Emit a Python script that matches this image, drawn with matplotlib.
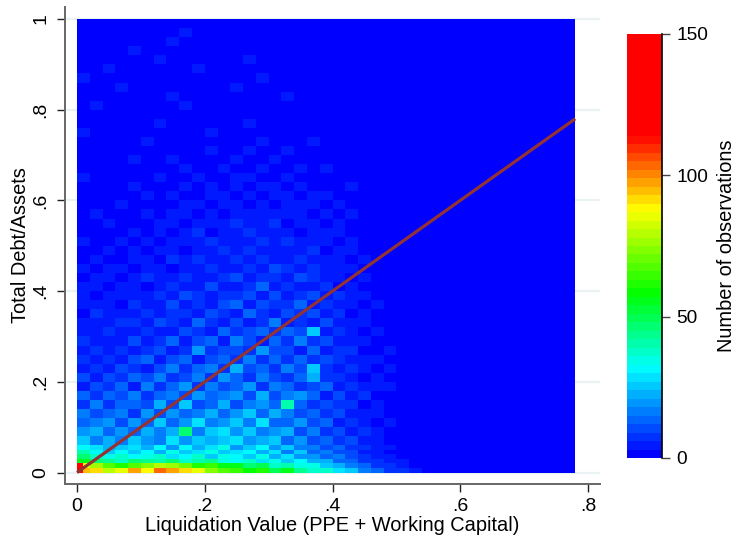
import numpy as np
import matplotlib
matplotlib.use("Agg")
import matplotlib.pyplot as plt
from matplotlib.colors import ListedColormap, BoundaryNorm

plt.rcParams['font.family'] = ['Liberation Sans', 'DejaVu Sans']

# bin edges, last column is the empty part on the right
x_edges = [0, .02, .04, .06, .08, .10, .12, .14, .16, .18, .20, .22, .24, .26, .28, .30,
           .32, .34, .36, .38, .40, .42, .44, .46, .48, .50, .52, .54, .56, .78]
y_edges = [0, .01, .02, .03, .04, .05, .06, .08, .10, .12, .14, .16, .18, .20, .22, .24, .26,
           .28, .30, .32, .34, .36, .38, .40, .42, .44, .46, .48, .50, .52, .54, .56, .58,
           .60, .62, .64, .66, .68, .70, .72, .74, .76, .78, .80, .82, .84, .86, .88, .90,
           .92, .94, .96, .98, 1.0]

# counts, bottom row first, columns x = 0 to .56
counts = [
    [92, 90, 78, 86, 96, 88, 103, 98, 92, 84, 74, 66, 63, 57, 60, 50, 54, 44, 38, 36, 29, 25, 16, 14, 8, 6, 3, 1],
    [84, 76, 66, 60, 68, 72, 79, 76, 70, 62, 63, 54, 55, 46, 49, 38, 41, 33, 34, 24, 23, 15, 13, 7, 7, 3, 2, 0],
    [54, 46, 44, 38, 47, 42, 40, 45, 37, 41, 44, 34, 31, 36, 28, 35, 26, 31, 21, 22, 13, 14, 8, 8, 4, 3, 1, 0],
    [47, 37, 33, 37, 30, 34, 38, 28, 32, 36, 26, 34, 31, 24, 33, 22, 27, 18, 20, 12, 15, 9, 8, 4, 4, 1, 0, 0],
    [41, 31, 26, 31, 24, 32, 23, 33, 25, 27, 34, 24, 29, 32, 21, 28, 17, 24, 14, 17, 10, 9, 5, 5, 2, 1, 0, 0],
    [31, 27, 22, 25, 29, 21, 30, 20, 31, 23, 28, 33, 20, 26, 31, 18, 26, 15, 16, 9, 12, 7, 6, 3, 3, 0, 0, 0],
    [25, 17, 21, 15, 24, 20, 17, 27, 18, 25, 21, 24, 29, 19, 23, 25, 14, 18, 10, 14, 6, 9, 3, 5, 1, 1, 0, 0],
    [18, 21, 12, 19, 14, 23, 16, 21, 46, 16, 24, 27, 18, 26, 17, 20, 21, 11, 15, 8, 10, 4, 6, 3, 2, 0, 0, 0],
    [13, 16, 18, 11, 20, 12, 24, 13, 19, 27, 15, 20, 25, 15, 28, 14, 13, 19, 9, 12, 5, 8, 4, 2, 3, 1, 0, 0],
    [17, 9, 14, 16, 8, 18, 11, 19, 14, 17, 23, 13, 18, 24, 12, 21, 17, 10, 14, 6, 10, 3, 5, 3, 0, 0, 0, 0],
    [8, 15, 7, 12, 14, 10, 21, 9, 24, 11, 14, 22, 11, 16, 19, 13, 40, 12, 8, 11, 7, 6, 2, 4, 1, 1, 0, 0],
    [12, 6, 13, 9, 17, 6, 13, 16, 10, 19, 12, 15, 20, 9, 21, 10, 15, 18, 13, 5, 9, 3, 6, 2, 0, 0, 0, 0],
    [5, 11, 8, 14, 5, 15, 8, 12, 20, 8, 17, 9, 14, 18, 8, 17, 12, 7, 10, 12, 4, 7, 3, 3, 3, 0, 0, 0],
    [10, 4, 9, 6, 12, 9, 17, 7, 11, 15, 7, 19, 12, 8, 15, 11, 6, 13, 22, 6, 8, 5, 2, 4, 0, 1, 0, 0],
    [4, 8, 3, 11, 7, 5, 10, 15, 6, 12, 16, 8, 22, 10, 13, 6, 16, 9, 25, 8, 3, 6, 4, 1, 3, 0, 0, 0],
    [7, 3, 6, 4, 9, 13, 4, 9, 13, 5, 10, 14, 7, 16, 7, 14, 8, 12, 6, 10, 7, 3, 4, 3, 0, 0, 0, 0],
    [3, 6, 5, 8, 3, 7, 11, 5, 8, 18, 6, 11, 9, 6, 18, 9, 11, 5, 14, 4, 6, 6, 1, 2, 3, 0, 0, 0],
    [6, 4, 3, 5, 10, 4, 6, 12, 3, 9, 13, 5, 15, 11, 5, 12, 7, 15, 6, 9, 3, 4, 5, 1, 0, 0, 0, 0],
    [3, 5, 7, 3, 4, 8, 5, 3, 10, 7, 5, 12, 6, 9, 14, 6, 13, 9, 25, 5, 7, 3, 2, 3, 0, 0, 0, 0],
    [5, 3, 4, 6, 7, 3, 9, 6, 4, 13, 8, 4, 11, 5, 8, 16, 5, 8, 4, 10, 4, 5, 3, 1, 1, 0, 0, 0],
    [2, 6, 3, 4, 3, 6, 4, 8, 6, 3, 11, 7, 5, 13, 7, 4, 10, 6, 9, 3, 8, 2, 4, 2, 0, 0, 0, 0],
    [4, 3, 5, 2, 6, 4, 3, 10, 4, 8, 5, 9, 13, 4, 11, 8, 6, 12, 3, 7, 3, 5, 1, 3, 0, 0, 0, 0],
    [3, 2, 3, 5, 3, 4, 7, 3, 9, 6, 3, 8, 6, 10, 5, 9, 4, 7, 9, 4, 6, 3, 3, 1, 0, 0, 0, 0],
    [4, 3, 2, 3, 5, 2, 5, 6, 3, 4, 10, 5, 4, 7, 12, 3, 8, 5, 4, 8, 2, 4, 2, 0, 1, 0, 0, 0],
    [2, 4, 3, 2, 3, 6, 3, 4, 7, 5, 3, 7, 9, 3, 6, 7, 4, 9, 6, 3, 5, 2, 3, 1, 0, 0, 0, 0],
    [3, 2, 4, 3, 2, 3, 5, 2, 5, 3, 6, 4, 3, 8, 4, 10, 6, 3, 7, 4, 3, 4, 0, 2, 0, 0, 0, 0],
    [2, 3, 2, 2, 4, 3, 2, 6, 3, 7, 4, 3, 6, 5, 8, 3, 5, 7, 3, 5, 3, 1, 3, 0, 0, 0, 0, 0],
    [1, 2, 3, 2, 3, 2, 4, 3, 2, 4, 5, 8, 3, 6, 3, 5, 3, 4, 6, 2, 4, 3, 1, 1, 0, 0, 0, 0],
    [3, 1, 2, 3, 1, 3, 2, 5, 3, 3, 6, 3, 5, 3, 7, 4, 6, 3, 3, 4, 2, 3, 0, 0, 0, 0, 0, 0],
    [1, 2, 1, 2, 3, 1, 3, 2, 4, 6, 2, 4, 3, 7, 3, 3, 5, 2, 4, 3, 3, 1, 2, 0, 0, 0, 0, 0],
    [2, 1, 3, 1, 2, 2, 3, 3, 2, 3, 4, 3, 6, 3, 4, 6, 2, 5, 3, 2, 3, 2, 0, 0, 0, 0, 0, 0],
    [1, 3, 1, 2, 1, 3, 1, 4, 3, 2, 5, 2, 3, 4, 3, 3, 4, 3, 2, 3, 1, 3, 1, 0, 0, 0, 0, 0],
    [2, 1, 1, 3, 2, 1, 2, 2, 5, 3, 2, 4, 3, 2, 5, 2, 3, 3, 4, 1, 3, 0, 1, 0, 0, 0, 0, 0],
    [1, 1, 2, 1, 1, 3, 2, 3, 1, 2, 3, 3, 2, 3, 2, 4, 3, 1, 3, 3, 0, 1, 0, 0, 0, 0, 0, 0],
    [0, 2, 1, 1, 3, 1, 1, 2, 3, 1, 4, 2, 3, 1, 3, 3, 2, 3, 1, 2, 1, 3, 0, 0, 0, 0, 0, 0],
    [3, 1, 1, 2, 1, 1, 3, 1, 2, 3, 2, 2, 4, 3, 2, 2, 3, 1, 2, 1, 0, 1, 0, 0, 0, 0, 0, 0],
    [1, 0, 2, 1, 1, 2, 1, 1, 3, 2, 1, 3, 2, 2, 3, 1, 2, 3, 1, 3, 1, 0, 0, 0, 0, 0, 0, 0],
    [2, 1, 0, 1, 3, 1, 1, 3, 1, 1, 2, 1, 3, 1, 2, 3, 1, 2, 1, 1, 0, 0, 0, 0, 0, 0, 0, 0],
    [1, 0, 1, 1, 1, 1, 2, 1, 2, 1, 3, 2, 1, 3, 1, 1, 3, 1, 1, 0, 1, 0, 0, 0, 0, 0, 0, 0],
    [0, 1, 0, 1, 0, 3, 1, 1, 1, 2, 1, 1, 2, 1, 3, 1, 1, 0, 3, 0, 0, 0, 0, 0, 0, 0, 0, 0],
    [3, 0, 1, 0, 1, 1, 0, 2, 1, 1, 3, 1, 1, 1, 1, 2, 0, 1, 0, 0, 0, 0, 0, 0, 0, 0, 0, 0],
    [0, 1, 0, 0, 1, 0, 3, 1, 0, 1, 1, 1, 0, 3, 1, 0, 1, 0, 0, 0, 0, 0, 0, 0, 0, 0, 0, 0],
    [1, 0, 0, 1, 0, 1, 0, 1, 1, 0, 1, 0, 1, 1, 0, 1, 0, 0, 0, 0, 0, 0, 0, 0, 0, 0, 0, 0],
    [0, 3, 0, 0, 0, 1, 0, 0, 3, 0, 0, 1, 0, 0, 1, 0, 0, 1, 0, 0, 0, 0, 0, 0, 0, 0, 0, 0],
    [0, 0, 1, 0, 1, 0, 0, 3, 0, 0, 1, 0, 0, 1, 0, 0, 3, 0, 0, 0, 0, 0, 0, 0, 0, 0, 0, 0],
    [0, 0, 0, 3, 0, 0, 1, 0, 0, 1, 0, 0, 3, 0, 0, 0, 0, 0, 0, 0, 0, 0, 0, 0, 0, 0, 0, 0],
    [3, 0, 0, 0, 0, 1, 0, 0, 1, 0, 0, 0, 0, 0, 3, 0, 0, 0, 0, 0, 0, 0, 0, 0, 0, 0, 0, 0],
    [0, 0, 3, 0, 0, 0, 0, 0, 0, 3, 0, 0, 0, 0, 0, 0, 0, 0, 0, 0, 0, 0, 0, 0, 0, 0, 0, 0],
    [0, 0, 0, 0, 0, 0, 3, 0, 0, 0, 0, 0, 0, 3, 0, 0, 0, 0, 0, 0, 0, 0, 0, 0, 0, 0, 0, 0],
    [0, 0, 0, 0, 3, 0, 0, 0, 0, 0, 0, 0, 0, 0, 0, 0, 0, 0, 0, 0, 0, 0, 0, 0, 0, 0, 0, 0],
    [0, 0, 0, 0, 0, 0, 0, 3, 0, 0, 0, 0, 0, 0, 0, 0, 0, 0, 0, 0, 0, 0, 0, 0, 0, 0, 0, 0],
    [0, 0, 0, 0, 0, 0, 0, 0, 3, 0, 0, 0, 0, 0, 0, 0, 0, 0, 0, 0, 0, 0, 0, 0, 0, 0, 0, 0],
    [0, 0, 0, 0, 0, 0, 0, 0, 0, 0, 0, 0, 0, 0, 0, 0, 0, 0, 0, 0, 0, 0, 0, 0, 0, 0, 0, 0],
]

# the peak at the origin is narrower than the other cells
corner_x_edges = [0, .01, .02]
corner_y_edges = [0, .01, .02]
corner_counts = [[150, 95], [150, 85]]

fit_x = [0, .78]
fit_y = [0, .78]

x_ticks = [0, .2, .4, .6, .8]
x_labels = ['0', '.2', '.4', '.6', '.8']
y_ticks = [0, .2, .4, .6, .8, 1]
y_labels = ['0', '.2', '.4', '.6', '.8', '1']
cbar_ticks = [0, 50, 100, 150]

# 50 colour steps: blue, cyan, green, yellow, red then flat red
levels = np.arange(0, 153, 3)
mids = levels[:-1] + 1.5
anchors = [1.5, 32, 58, 88, 114, 150]
r = np.interp(mids, anchors, [0, 0, 0, 1, 1, 1])
g = np.interp(mids, anchors, [0, 1, 1, 1, 0, 0])
b = np.interp(mids, anchors, [1, 1, 0, 0, 0, 0])
cmap = ListedColormap(np.column_stack([r, g, b]))
norm = BoundaryNorm(levels, cmap.N)

W, H = 736, 537
fig = plt.figure(figsize=(W / 100, H / 100), dpi=100)
ax = fig.add_axes([65 / W, 1 - 484 / H, 535 / W, 477 / H])
cax = fig.add_axes([627 / W, 1 - 458 / H, 35 / W, 424 / H])

# padded with the empty last column
z = np.column_stack([np.array(counts), np.zeros(len(counts))])
mesh = ax.pcolormesh(x_edges, y_edges, z, cmap=cmap, norm=norm, antialiased=False, zorder=2)
ax.pcolormesh(corner_x_edges, corner_y_edges, corner_counts, cmap=cmap, norm=norm, antialiased=False, zorder=2.5)
ax.plot(fit_x, fit_y, color='#933333', lw=2.3, zorder=3, solid_capstyle='butt')

ax.set_xlim(-.0188, .8188)
ax.set_ylim(-.0253, 1.0265)
ax.set_yticks(y_ticks)
ax.set_yticklabels(y_labels, rotation=90, va='center')
ax.set_xticks(x_ticks)
ax.set_xticklabels(x_labels)
ax.tick_params(labelsize=14, length=6, width=1, color='#222222')
ax.tick_params(axis='x', pad=4)
ax.tick_params(axis='y', pad=5)
ax.grid(axis='y', color='#eaf2f3', lw=1.6, zorder=1)
ax.set_axisbelow(True)
for s in ['top', 'right']:
    ax.spines[s].set_visible(False)
for s in ['left', 'bottom']:
    ax.spines[s].set_color('#666666')
    ax.spines[s].set_linewidth(1.4)
ax.set_xlabel('Liquidation Value (PPE + Working Capital)', fontsize=14.4, labelpad=0.5)
ax.set_ylabel('Total Debt/Assets', fontsize=14.4, labelpad=2)

cb = fig.colorbar(mesh, cax=cax, ticks=cbar_ticks, spacing='proportional')
cb.ax.set_yticklabels([str(t) for t in cbar_ticks])
cb.ax.tick_params(labelsize=13.8, length=6, width=1, color='#444444', pad=4.5)
cb.minorticks_off()
cb.outline.set_visible(False)
cb.ax.plot([1, 1], [0, 150], color='black', lw=1.2, clip_on=False)
cb.set_label('Number of observations', fontsize=14.4, labelpad=6)

fig.savefig('out.png', dpi=100)
